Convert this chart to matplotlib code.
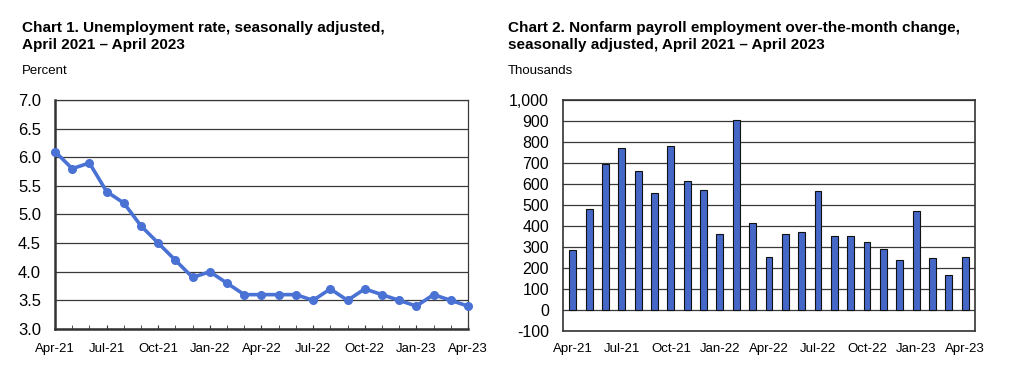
import numpy as np
from matplotlib import pyplot as plt

months = ['Apr-21', 'May-21', 'Jun-21', 'Jul-21', 'Aug-21', 'Sep-21', 'Oct-21', 'Nov-21', 'Dec-21',
          'Jan-22', 'Feb-22', 'Mar-22', 'Apr-22', 'May-22', 'Jun-22', 'Jul-22', 'Aug-22', 'Sep-22',
          'Oct-22', 'Nov-22', 'Dec-22', 'Jan-23', 'Feb-23', 'Mar-23', 'Apr-23']
unemp_rate = [6.1, 5.8, 5.9, 5.4, 5.2, 4.8, 4.5, 4.2, 3.9, 4.0, 3.8, 3.6, 3.6, 3.6, 3.6,
              3.5, 3.7, 3.5, 3.7, 3.6, 3.5, 3.4, 3.6, 3.5, 3.4]
payroll_chg = [284, 483, 697, 770, 663, 557, 780, 614, 570, 364, 904, 413, 254, 364, 370,
               568, 352, 350, 324, 290, 239, 472, 248, 165, 253]

plt.rcParams['font.family'] = ['Liberation Sans', 'DejaVu Sans']

line_col = '#4a72d4'
bar_col = '#4467c8'
grid_col = '#3a3a3a'

fig = plt.figure(figsize=(10.24, 3.86), dpi=100)

x = np.arange(len(months))
lab_idx = x[::3]

# chart 1
ax1 = fig.add_axes([0.0537, 0.1477, 0.4033, 0.5933])
ax1.plot(x, unemp_rate, color=line_col, lw=2.6, marker='o', ms=5.5, zorder=3, clip_on=False)
ax1.set_xlim(0, 24)
ax1.set_ylim(3.0, 7.0)
ax1.set_yticks(np.arange(3.0, 7.01, 0.5))
ax1.set_yticklabels(['%.1f' % v for v in np.arange(3.0, 7.01, 0.5)], fontsize=12)
ax1.set_xticks(x, minor=True)
ax1.set_xticks(lab_idx)
ax1.set_xticklabels([months[i] for i in lab_idx], fontsize=9.5)
ax1.tick_params(axis='y', length=0, pad=10)
ax1.tick_params(axis='x', which='both', direction='in', length=3, color='#333333', pad=10)
ax1.yaxis.grid(True, color=grid_col, lw=0.9)
ax1.set_axisbelow(True)
for s in ['left', 'bottom']:
    ax1.spines[s].set_linewidth(1.8)
    ax1.spines[s].set_color('#333333')
for s in ['top', 'right']:
    ax1.spines[s].set_linewidth(0.9)
    ax1.spines[s].set_color(grid_col)

# chart 2
ax2 = fig.add_axes([0.5498, 0.1425, 0.4023, 0.5985])
ax2.bar(x, payroll_chg, width=0.42, color=bar_col, edgecolor='#111111', lw=0.8, zorder=3)
ax2.set_xlim(-0.6, 24.6)
ax2.set_ylim(-100, 1000)
yt = np.arange(-100, 1001, 100)
ax2.set_yticks(yt)
ax2.set_yticklabels(['{:,}'.format(v) for v in yt], fontsize=11.5)
ax2.set_xticks(lab_idx)
ax2.set_xticklabels([months[i] for i in lab_idx], fontsize=9.5)
ax2.tick_params(axis='both', length=0)
ax2.tick_params(axis='y', pad=10)
ax2.tick_params(axis='x', pad=9)
ax2.yaxis.grid(True, color=grid_col, lw=0.9)
ax2.set_axisbelow(True)
for s in ax2.spines.values():
    s.set_linewidth(1.2)
    s.set_color('#333333')

titles = [(22, ['Chart 1. Unemployment rate, seasonally adjusted,', 'April 2021 \u2013 April 2023'], 'Percent'),
          (508, ['Chart 2. Nonfarm payroll employment over-the-month change,',
                 'seasonally adjusted, April 2021 \u2013 April 2023'], 'Thousands')]
for xp, lines, unit in titles:
    fig.text(xp / 1024, 1 - 32 / 386, lines[0], fontsize=11, fontweight='bold', va='baseline', ha='left')
    fig.text(xp / 1024, 1 - 49 / 386, lines[1], fontsize=11, fontweight='bold', va='baseline', ha='left')
    fig.text(xp / 1024, 1 - 71 / 386, unit, fontsize=9.5, va='center', ha='left')

fig.savefig('out.png', dpi=100)
